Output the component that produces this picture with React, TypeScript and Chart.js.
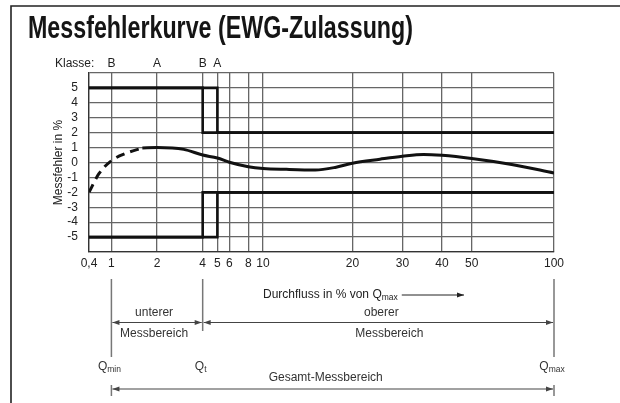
import React, { useEffect, useRef } from 'react';
import { Chart, registerables } from 'chart.js';

Chart.register(...registerables);

const FONT = '"Liberation Sans", Arial, Helvetica, sans-serif';
const FS = 12;
const SUB_FS = 8.5;

// ---- texts ----
const titleText = 'Messfehlerkurve (EWG-Zulassung)';
const yAxisTitle = 'Messfehler in %';
const xAxisTitle = 'Durchfluss in % von Q';
const xAxisTitleSub = 'max';
const classCaption = 'Klasse:';

// ---- x axis (flow in % of Qmax) ----
const tickFlows = [0.4, 1, 2, 4, 5, 6, 8, 10, 20, 30, 40, 50, 100];
const tickLabels = ['0,4', '1', '2', '4', '5', '6', '8', '10', '20', '30', '40', '50', '100'];

// ---- y axis (error in %) ----
const errorTicks = [-6, -5, -4, -3, -2, -1, 0, 1, 2, 3, 4, 5, 6];
const errorTickLabels = ['', '-5', '-4', '-3', '-2', '-1', '0', '1', '2', '3', '4', '5', ''];

// axis definition: the printed scale is logarithmic piece by piece
const scaleStopFlows = [0.4, 1, 10, 20, 30, 40, 50, 100];
const scaleStopUnits = [0, 4.82, 37.42, 56.65, 67.4, 75.91, 82.3, 100];

// ---- class markers on top ----
const classLetters = ['B', 'A', 'B', 'A'];
const classFlows = [1, 2, 4, 5];

// ---- error limits ----
const limitFlowsB = [0.4, 4, 4, 100];
const limitFlowsA = [0.4, 5, 5, 100];
const upperLimit = [5, 5, 2, 2];
const lowerLimit = [-5, -5, -2, -2];

// ---- error curve ----
const dashedFlows = [0.4, 0.6, 1, 1.25, 1.6];
const dashedErrors = [-2, -0.75, 0.12, 0.62, 0.97];
const curveFlows = [1.6, 2, 3, 4, 5, 6, 8, 10, 12, 15, 17.5, 20, 25, 30, 35, 40, 50, 70, 100];
const curveErrors = [0.97, 1.0, 0.88, 0.5, 0.3, 0.02, -0.28, -0.4, -0.46, -0.5, -0.33, -0.05, 0.22, 0.42, 0.54, 0.48, 0.27, -0.13, -0.7];

// ---- range annotation texts ----
const lowerRangeTop = 'unterer';
const upperRangeTop = 'oberer';
const rangeBottom = 'Messbereich';
const totalRange = 'Gesamt-Messbereich';
const qMarks = [
  { main: 'Q', sub: 'min', flow: 1 },
  { main: 'Q', sub: 't', flow: 4 },
  { main: 'Q', sub: 'max', flow: 100 },
];

function toAxis(v: number): number {
  const lv = Math.log10(v);
  for (let i = 0; i < scaleStopFlows.length - 1; i++) {
    const a = scaleStopFlows[i];
    const b = scaleStopFlows[i + 1];
    if (v <= b || i === scaleStopFlows.length - 2) {
      const t = (lv - Math.log10(a)) / (Math.log10(b) - Math.log10(a));
      return scaleStopUnits[i] + t * (scaleStopUnits[i + 1] - scaleStopUnits[i]);
    }
  }
  return 100;
}

const pts = (flows: number[], vals: number[]) => flows.map((f, i) => ({ x: toAxis(f), y: vals[i] }));

function arrowHead(ctx: CanvasRenderingContext2D, x: number, y: number, dir: number) {
  ctx.beginPath();
  ctx.moveTo(x, y);
  ctx.lineTo(x - dir * 7, y - 2.5);
  ctx.lineTo(x - dir * 7, y + 2.5);
  ctx.closePath();
  ctx.fill();
}

function arrow(ctx: CanvasRenderingContext2D, x1: number, x2: number, y: number, startHead: boolean, endHead: boolean) {
  ctx.beginPath();
  ctx.moveTo(x1, y);
  ctx.lineTo(x2, y);
  ctx.stroke();
  if (startHead) arrowHead(ctx, x1, y, -1);
  if (endHead) arrowHead(ctx, x2, y, 1);
}

function subText(ctx: CanvasRenderingContext2D, main: string, sub: string, x: number, y: number, align: string): number {
  ctx.font = FS + 'px ' + FONT;
  const w1 = ctx.measureText(main).width;
  ctx.font = SUB_FS + 'px ' + FONT;
  const w2 = ctx.measureText(sub).width;
  const total = w1 + w2;
  const left = align === 'center' ? x - total / 2 : align === 'right' ? x - total : x;
  ctx.textAlign = 'left';
  ctx.textBaseline = 'middle';
  ctx.font = FS + 'px ' + FONT;
  ctx.fillText(main, left, y);
  ctx.font = SUB_FS + 'px ' + FONT;
  ctx.fillText(sub, left + w1, y + 3);
  return left + total;
}

const annotations = {
  id: 'annotations',
  afterDraw(chart: any) {
    const ctx: CanvasRenderingContext2D = chart.ctx;
    const xs = chart.scales.x;
    const area = chart.chartArea;
    const px = (f: number) => xs.getPixelForValue(toAxis(f));
    ctx.save();

    // frame
    ctx.strokeStyle = '#222';
    ctx.lineWidth = 1.6;
    ctx.beginPath();
    ctx.moveTo(11, 403);
    ctx.lineTo(11, 6);
    ctx.lineTo(620, 6);
    ctx.stroke();

    // title (condensed)
    ctx.fillStyle = '#151515';
    ctx.font = 'bold 31px ' + FONT;
    ctx.textAlign = 'left';
    ctx.textBaseline = 'alphabetic';
    const tw = ctx.measureText(titleText).width;
    ctx.save();
    ctx.translate(28, 38);
    ctx.scale(385 / tw, 1);
    ctx.fillText(titleText, 0, 0);
    ctx.restore();

    // class letters
    ctx.fillStyle = '#222';
    ctx.font = FS + 'px ' + FONT;
    ctx.textBaseline = 'middle';
    ctx.textAlign = 'left';
    ctx.fillText(classCaption, 55, area.top - 9);
    ctx.textAlign = 'center';
    classFlows.forEach((f, i) => ctx.fillText(classLetters[i], px(f), area.top - 9));

    const b = area.bottom;
    // x-axis title with arrow
    ctx.fillStyle = '#222';
    const endX = subText(ctx, xAxisTitle, xAxisTitleSub, 263, b + 43, 'left');
    ctx.strokeStyle = '#222';
    ctx.lineWidth = 1;
    arrow(ctx, endX + 4, 464, b + 43, false, true);

    const xMin = px(qMarks[0].flow);
    const xT = px(qMarks[1].flow);
    const xMax = px(qMarks[2].flow);

    // vertical reference lines
    ctx.strokeStyle = '#777';
    ctx.lineWidth = 1.5;
    ctx.beginPath();
    ctx.moveTo(xMin, b + 27); ctx.lineTo(xMin, b + 105);
    ctx.moveTo(xT, b + 27); ctx.lineTo(xT, b + 79);
    ctx.moveTo(xMax, b + 27); ctx.lineTo(xMax, b + 105);
    ctx.moveTo(xMin, b + 133); ctx.lineTo(xMin, b + 144);
    ctx.moveTo(xMax, b + 133); ctx.lineTo(xMax, b + 144);
    ctx.stroke();

    // range arrows
    ctx.strokeStyle = '#444';
    ctx.fillStyle = '#444';
    ctx.lineWidth = 1.2;
    arrow(ctx, xMin + 1, xT - 1, b + 70.5, true, true);
    arrow(ctx, xT + 1, xMax - 1, b + 70.5, true, true);
    arrow(ctx, xMin + 1, xMax - 1, b + 137, true, true);

    ctx.fillStyle = '#333';
    ctx.font = FS + 'px ' + FONT;
    ctx.textAlign = 'center';
    ctx.textBaseline = 'middle';
    ctx.fillText(lowerRangeTop, (xMin + xT) / 2 - 3, b + 60.5);
    ctx.fillText(upperRangeTop, (xT + xMax) / 2 + 3, b + 60.5);
    ctx.fillText(rangeBottom, (xMin + xT) / 2 - 3, b + 82);
    ctx.fillText(rangeBottom, (xT + xMax) / 2 + 11, b + 82);
    ctx.fillText(totalRange, (xMin + xMax) / 2 - 7, b + 126);

    qMarks.forEach((q) => {
      subText(ctx, q.main, q.sub, px(q.flow) - 2, b + 114.5, 'center');
    });

    ctx.restore();
  },
};

export default function App() {
  const ref = useRef<HTMLCanvasElement>(null);
  useEffect(() => {
    Chart.defaults.font.family = FONT;
    Chart.defaults.font.size = FS;
    Chart.defaults.color = '#222';
    const lineStyle = {
      borderColor: '#111',
      borderWidth: 2.6,
      pointRadius: 0,
      tension: 0,
      fill: false,
    };
    const gridStyle = { color: '#666', lineWidth: 1.3, drawTicks: false };
    const chart = new Chart(ref.current as HTMLCanvasElement, {
      type: 'line',
      data: {
        datasets: [
          { ...lineStyle, data: pts(limitFlowsB, upperLimit) },
          { ...lineStyle, data: pts(limitFlowsA, upperLimit) },
          { ...lineStyle, data: pts(limitFlowsB, lowerLimit) },
          { ...lineStyle, data: pts(limitFlowsA, lowerLimit) },
          {
            data: pts(dashedFlows, dashedErrors),
            borderColor: '#111',
            borderWidth: 3,
            borderDash: [9, 6],
            pointRadius: 0,
            cubicInterpolationMode: 'monotone',
            fill: false,
          },
          {
            data: pts(curveFlows, curveErrors),
            borderColor: '#111',
            borderWidth: 3,
            pointRadius: 0,
            cubicInterpolationMode: 'monotone',
            fill: false,
          },
        ],
      },
      options: {
        responsive: false,
        animation: false,
        devicePixelRatio: 1,
        layout: { padding: { left: 0, right: 66, top: 73, bottom: 0 } },
        plugins: {
          legend: { display: false },
          tooltip: { enabled: false },
          title: { display: false },
        },
        scales: {
          x: {
            type: 'linear',
            min: 0,
            max: 100,
            afterBuildTicks: (s: any) => {
              s.ticks = tickFlows.map((f) => ({ value: toAxis(f) }));
            },
            afterFit: (s: any) => {
              s.height = 151;
            },
            ticks: {
              autoSkip: false,
              maxRotation: 0,
              minRotation: 0,
              padding: 4,
              color: '#222',
              font: { size: FS },
              callback: (_v: any, i: number) => tickLabels[i],
            },
            grid: gridStyle,
            border: { color: '#333', width: 1.3 },
          },
          y: {
            type: 'linear',
            min: -6,
            max: 6,
            afterBuildTicks: (s: any) => {
              s.ticks = errorTicks.map((v) => ({ value: v }));
            },
            afterFit: (s: any) => {
              s.width = 89;
            },
            ticks: {
              autoSkip: false,
              padding: 11,
              color: '#222',
              font: { size: FS },
              callback: (_v: any, i: number) => errorTickLabels[i],
            },
            title: {
              display: true,
              text: yAxisTitle,
              color: '#222',
              font: { size: FS },
              padding: { top: 51, bottom: 0 },
            },
            grid: gridStyle,
            border: { color: '#333', width: 1.3 },
          },
        },
      },
      plugins: [annotations],
    } as any);
    return () => chart.destroy();
  }, []);
  return (
    <div style={{ position: 'absolute', left: 0, top: 0, width: 620, height: 403, background: '#fff' }}>
      <canvas ref={ref} width={620} height={403} style={{ display: 'block' }} />
    </div>
  );
}
